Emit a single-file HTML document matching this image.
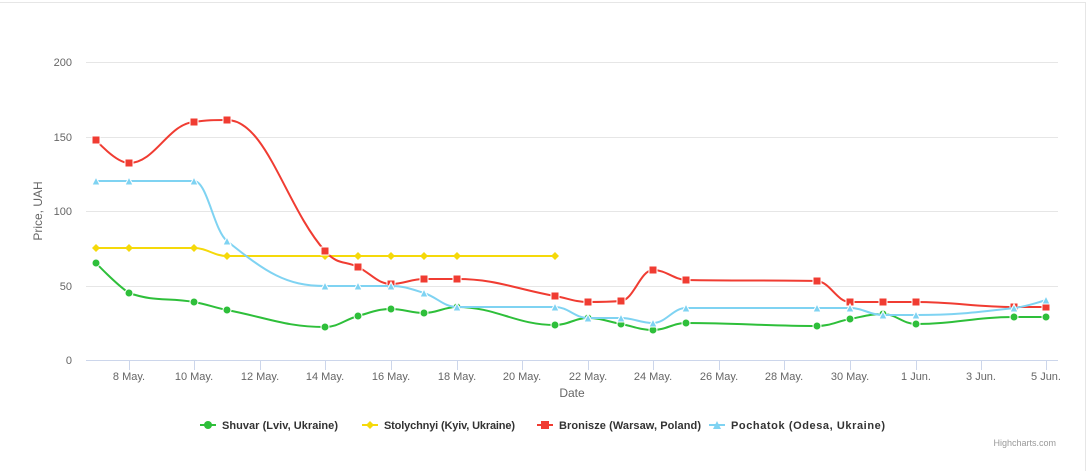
<!DOCTYPE html>
<html><head><meta charset="utf-8"><style>
html,body{margin:0;padding:0;background:#fff;}
svg{display:block;font-family:"Liberation Sans",sans-serif;}
</style></head><body>
<svg id="c" width="1088" height="471" xmlns="http://www.w3.org/2000/svg">
<line x1="0" x2="1086" y1="2.5" y2="2.5" stroke="#e6e6e6"/>
<line x1="1085.5" x2="1085.5" y1="2" y2="471" stroke="#e6e6e6"/>
<g stroke="#e6e6e6" stroke-width="1">
<line x1="86" x2="1058" y1="62.5" y2="62.5"/>
<line x1="86" x2="1058" y1="137.5" y2="137.5"/>
<line x1="86" x2="1058" y1="211.5" y2="211.5"/>
<line x1="86" x2="1058" y1="286.5" y2="286.5"/>
</g>
<line x1="86" x2="1058" y1="360.5" y2="360.5" stroke="#ccd6eb"/>
<g id="ticks" stroke="#ccd6eb"></g>
<g font-size="11" fill="#666" text-anchor="end">
<text x="72" y="66">200</text><text x="72" y="141">150</text><text x="72" y="215">100</text><text x="72" y="290">50</text><text x="72" y="364">0</text>
</g>
<text transform="translate(42,211) rotate(-90)" text-anchor="middle" font-size="12" fill="#666">Price, UAH</text>
<g id="xl" font-size="11" fill="#666" text-anchor="middle"></g>
<text x="572" y="397" text-anchor="middle" font-size="12" fill="#666">Date</text>
<g id="series"></g>
<g font-size="11" font-weight="bold" fill="#333">
<line x1="200" x2="216" y1="425" y2="425" stroke="#2ebf3a" stroke-width="2"/><circle cx="208" cy="425" r="4" fill="#2ebf3a"/>
<text x="222" y="429" textLength="116">Shuvar (Lviv, Ukraine)</text>
<line x1="362" x2="378" y1="425" y2="425" stroke="#f5d90a" stroke-width="2"/><path d="M370 421 L374 425 L370 429 L366 425Z" fill="#f5d90a"/>
<text x="384" y="429" textLength="131">Stolychnyi (Kyiv, Ukraine)</text>
<line x1="537" x2="553" y1="425" y2="425" stroke="#f03c32" stroke-width="2"/><rect x="541" y="421" width="8" height="8" fill="#f03c32"/>
<text x="559" y="429" textLength="142">Bronisze (Warsaw, Poland)</text>
<line x1="709" x2="725" y1="425" y2="425" stroke="#7fd3f2" stroke-width="2"/><path d="M717 421 L721 429 L713 429Z" fill="#7fd3f2"/>
<text x="731" y="429" textLength="154">Pochatok (Odesa, Ukraine)</text>
</g>
<text x="1056" y="446" text-anchor="end" font-size="9" fill="#999">Highcharts.com</text>
</svg>
<script>
var NS="http://www.w3.org/2000/svg",svg=document.getElementById('c');
function el(t,a,p){var e=document.createElementNS(NS,t);for(var k in a)e.setAttribute(k,a[k]);p.appendChild(e);return e;}
var labs=[["8 May.",129],["10 May.",194],["12 May.",260],["14 May.",325],["16 May.",391],["18 May.",457],["20 May.",522],["22 May.",588],["24 May.",653],["26 May.",719],["28 May.",784],["30 May.",850],["1 Jun.",916],["3 Jun.",981],["5 Jun.",1046]];
var xl=document.getElementById('xl'),tk=document.getElementById('ticks');
labs.forEach(function(l){var t=el('text',{x:l[1],y:380},xl);t.textContent=l[0];el('line',{x1:l[1]+.5,x2:l[1]+.5,y1:360,y2:370},tk);});
var S=[
{c:"#2ebf3a",m:"c",p:[[96,263],[129,293],[194,302],[227,310],[325,327],[358,316],[391,309],[424,313],[457,307],[555,325],[588,318],[621,324],[653,330],[686,323],[817,326],[850,319],[883,314],[916,324],[1014,317],[1046,317]]},
{c:"#f5d90a",m:"d",p:[[96,248],[129,248],[194,248],[227,256],[325,256],[358,256],[391,256],[424,256],[457,256],[555,256]]},
{c:"#f03c32",m:"s",p:[[96,140],[129,163],[194,122],[227,120],[325,251],[358,267],[391,284],[424,279],[457,279],[555,296],[588,302],[621,301],[653,270],[686,280],[817,281],[850,302],[883,302],[916,302],[1014,307],[1046,307]]},
{c:"#7fd3f2",m:"t",p:[[96,181],[129,181],[194,181],[227,241],[325,286],[358,286],[391,286],[424,293],[457,307],[555,307],[588,318],[621,318],[653,323],[686,308],[817,308],[850,308],[883,315],[916,315],[1014,308],[1046,300]]}];
var g=document.getElementById('series');
function spline(p){var sm=1.5,d="M"+p[0][0]+" "+p[0][1];
function ctrl(i){var a=p[i-1],b=p[i],c=p[i+1];if(!a||!c)return[b,b];
var lx=(sm*b[0]+a[0])/(sm+1),ly=(sm*b[1]+a[1])/(sm+1),rx=(sm*b[0]+c[0])/(sm+1),ry=(sm*b[1]+c[1])/(sm+1);
var corr=0;if(rx!==lx)corr=((ry-ly)*(rx-b[0]))/(rx-lx)+b[1]-ry;ly+=corr;ry+=corr;
if(ly>a[1]&&ly>b[1]){ly=Math.max(a[1],b[1]);ry=2*b[1]-ly;}else if(ly<a[1]&&ly<b[1]){ly=Math.min(a[1],b[1]);ry=2*b[1]-ly;}
if(ry>c[1]&&ry>b[1]){ry=Math.max(c[1],b[1]);ly=2*b[1]-ry;}else if(ry<c[1]&&ry<b[1]){ry=Math.min(c[1],b[1]);ly=2*b[1]-ry;}
return[[lx,ly],[rx,ry]];}
for(var i=1;i<p.length;i++){var c1=ctrl(i-1)[1],c2=ctrl(i)[0];d+=" C"+c1[0]+" "+c1[1]+" "+c2[0]+" "+c2[1]+" "+p[i][0]+" "+p[i][1];}
return d;}
S.forEach(function(s){el('path',{d:spline(s.p),fill:"none",stroke:s.c,"stroke-width":2},g);
s.p.forEach(function(q){var x=q[0],y=q[1];
if(s.m=="c")el('circle',{cx:x,cy:y,r:4,fill:s.c,stroke:"#fff","stroke-width":1},g);
else if(s.m=="d")el('path',{d:"M"+x+" "+(y-4)+"L"+(x+4)+" "+y+"L"+x+" "+(y+4)+"L"+(x-4)+" "+y+"Z",fill:s.c},g);
else if(s.m=="s")el('rect',{x:x-4,y:y-4,width:8,height:8,fill:s.c,stroke:"#fff","stroke-width":1},g);
else el('path',{d:"M"+x+" "+(y-4)+"L"+(x+4)+" "+(y+4)+"L"+(x-4)+" "+(y+4)+"Z",fill:s.c,stroke:"#fff","stroke-width":1},g);});});
</script>
</body></html>
